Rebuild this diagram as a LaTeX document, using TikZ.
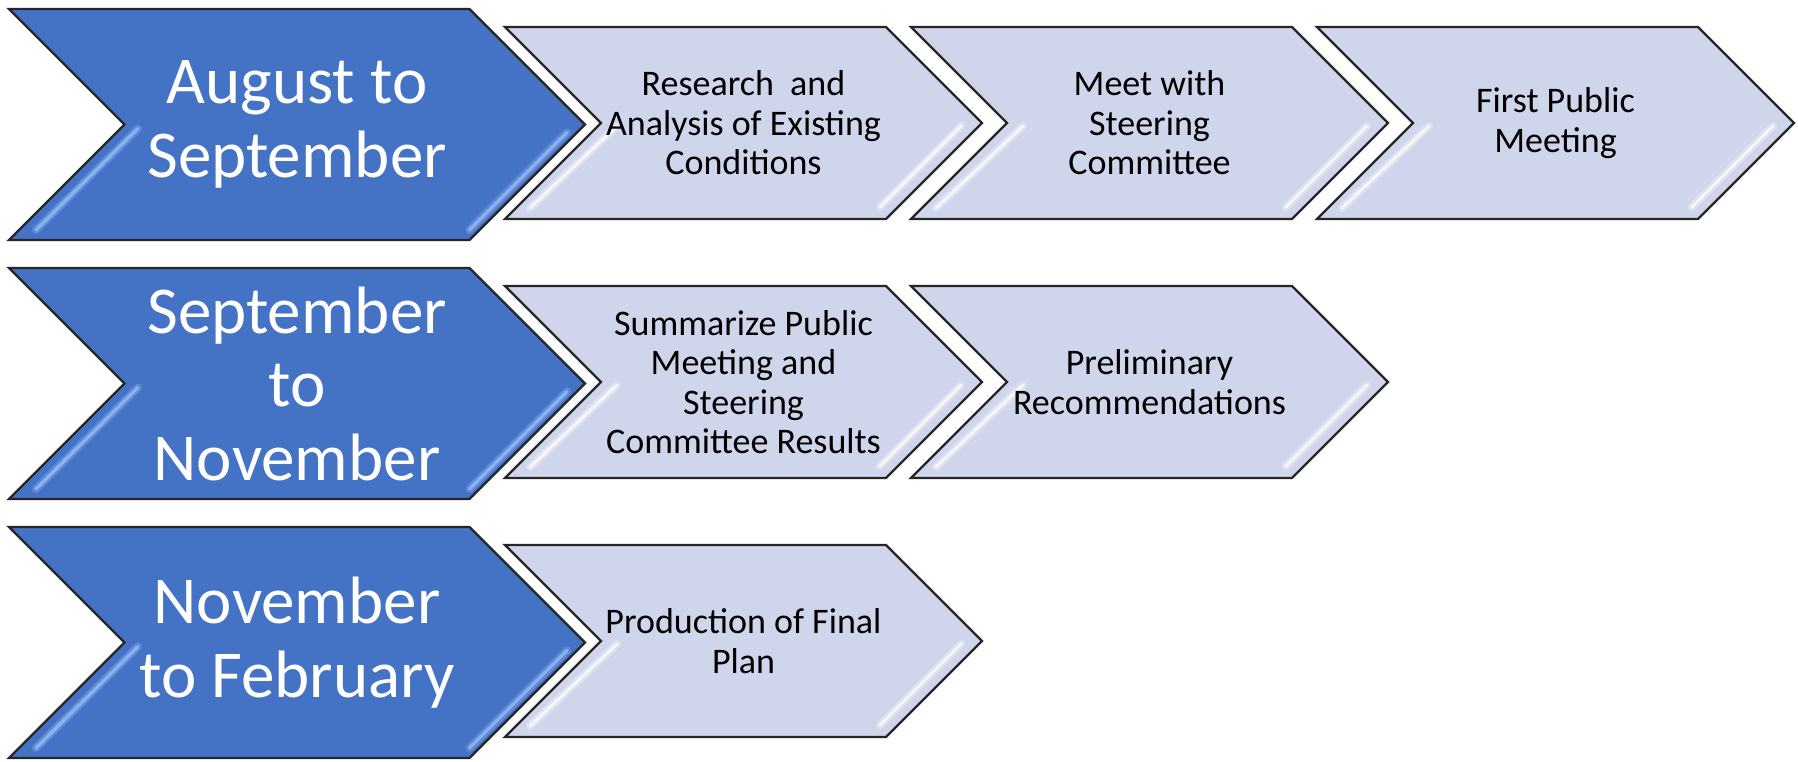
\documentclass[tikz,border=0pt]{standalone}
\usepackage{fontspec}
\setmainfont{Carlito}
\definecolor{darkblue}{HTML}{4472C4}
\definecolor{lightfill}{HTML}{CFD5EA}
\definecolor{hiblue}{HTML}{8FB5F2}
\definecolor{edgecol}{HTML}{262626}
\tikzset{
  chevedge/.style={draw=edgecol, line width=2.2pt, line join=miter},
  bluechev/.style={chevedge, fill=darkblue},
  lightchev/.style={chevedge, fill=lightfill},
  bluetext/.style={text=white, font=\fontsize{67}{73.5}\selectfont, align=center, inner sep=0pt},
  lighttext/.style={text=black, font=\fontsize{36}{39.5}\selectfont, align=center, inner sep=0pt},
  bluehlglow/.style={draw=hiblue, line width=8pt, line cap=round, opacity=0.35},
  bluehl/.style={draw=hiblue, line width=3.5pt, line cap=round, opacity=0.9},
  lighthlglow/.style={draw=white, line width=8pt, line cap=round, opacity=0.3},
  lighthl/.style={draw=white, line width=3pt, line cap=round, opacity=0.75},
}
\newcommand{\BlueChev}[3]{%
  \path[bluechev] (9,#1-115.5) -- (469.5,#1-115.5) -- (585,#1) -- (469.5,#1+115.5) -- (9,#1+115.5) -- (124.5,#1) -- cycle;
  \draw[bluehlglow] (567,#1+8) -- (469.5,#1+105.5);
  \draw[bluehl] (567,#1+8) -- (469.5,#1+105.5);
  \draw[bluehlglow] (138,#1+4) -- (36,#1+105.5);
  \draw[bluehl] (138,#1+4) -- (36,#1+105.5);
  \node[bluetext] (#2) at (297,#1) {#3};
}
\newcommand{\LightChev}[4]{%
  \path[lightchev] (#1,#2-96) -- (#1+381,#2-96) -- (#1+477,#2) -- (#1+381,#2+96) -- (#1,#2+96) -- (#1+96,#2) -- cycle;
  \draw[lighthlglow] (#1+456,#2+3) -- (#1+375,#2+84);
  \draw[lighthl] (#1+456,#2+3) -- (#1+375,#2+84);
  \draw[lighthlglow] (#1+112,#2+3) -- (#1+25,#2+85);
  \draw[lighthl] (#1+112,#2+3) -- (#1+25,#2+85);
  \node[lighttext] (#3) at (#1+238.5,#2) {#4};
}
\begin{document}
\begin{tikzpicture}[x=1pt,y=-1pt]
\useasboundingbox[fill=white] (0,0) rectangle (1798,761);
% Row 1
\BlueChev{124.5}{b1}{August to\\September}
\LightChev{505}{123}{r1a}{Research\ \ and\\Analysis of Existing\\Conditions}
\LightChev{911}{123}{r1b}{Meet with\\Steering\\Committee}
\LightChev{1317}{123}{r1c}{First Public\\Meeting}
% Row 2
\BlueChev{383.5}{b2}{September\\to\\November}
\LightChev{505}{382}{r2a}{Summarize Public\\Meeting and\\Steering\\Committee Results}
\LightChev{911}{382}{r2b}{Preliminary\\Recommendations}
% Row 3
\BlueChev{642.5}{b3}{November\\to February}
\LightChev{505}{641}{r3a}{Production of Final\\Plan}
\end{tikzpicture}
\end{document}
